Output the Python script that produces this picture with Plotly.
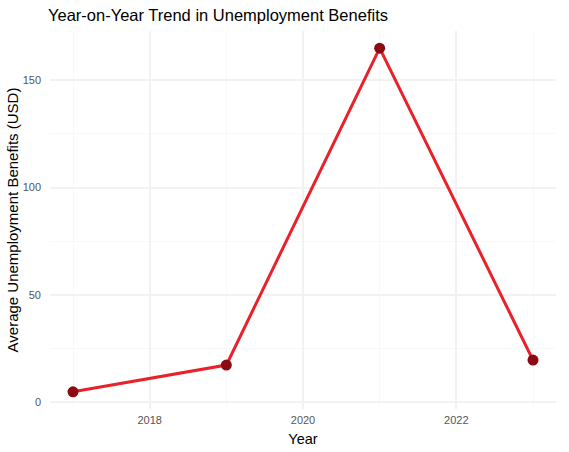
import plotly.graph_objects as go

years = [2017, 2019, 2021, 2023]
avg_benefits = [4.7, 17.2, 165.0, 19.5]

fig = go.Figure()

# --- Line + points
fig.add_trace(go.Scatter(
    x=years, y=avg_benefits, mode="lines",
    line=dict(color="#E8212B", width=3), showlegend=False
))
fig.add_trace(go.Scatter(
    x=years, y=avg_benefits, mode="markers",
    marker=dict(color="#8B0A14", size=11), showlegend=False
))

grid = "#F2F2F2"
tick_font = dict(size=11, color="#555555")
fig.update_layout(
    template="none",
    width=569, height=452,
    margin=dict(l=50, r=13, t=31, b=43),
    plot_bgcolor="white", paper_bgcolor="white",
    font=dict(family="Liberation Sans, Arial", color="#4D4D4D"),
    title=dict(text="Year-on-Year Trend in Unemployment Benefits",
               x=48 / 569, xanchor="left", y=1 - 15 / 452, yanchor="middle",
               font=dict(size=16.5, color="black")),
)
fig.update_xaxes(
    range=[2016.7, 2023.3], tickvals=[2018, 2020, 2022],
    tickfont=tick_font, showline=False, zeroline=False, ticks="",
    ticklabelstandoff=3, automargin=False,
    gridcolor=grid, gridwidth=1.6,
    minor=dict(tickvals=[2017, 2019, 2021, 2023], showgrid=True, gridcolor="#F8F8F8", gridwidth=0.8),
    title=dict(text="Year", font=dict(size=14.5, color="black"), standoff=8),
)
fig.update_yaxes(
    range=[-3.3, 173], tickvals=[0, 50, 100, 150],
    tickfont=tick_font, showline=False, zeroline=False, ticks="",
    ticklabelstandoff=8, automargin=False,
    gridcolor=grid, gridwidth=1.6,
    minor=dict(tickvals=[25, 75, 125], showgrid=True, gridcolor="#F8F8F8", gridwidth=0.8),
    title=dict(text="Average Unemployment Benefits (USD)", font=dict(size=15, color="black"), standoff=0),
)

# page body has a default 8px margin; drop it so the figure sits at 0,0
fig.write_html("out.html", config={"displayModeBar": False},
               post_script="document.body.style.margin='0';")
